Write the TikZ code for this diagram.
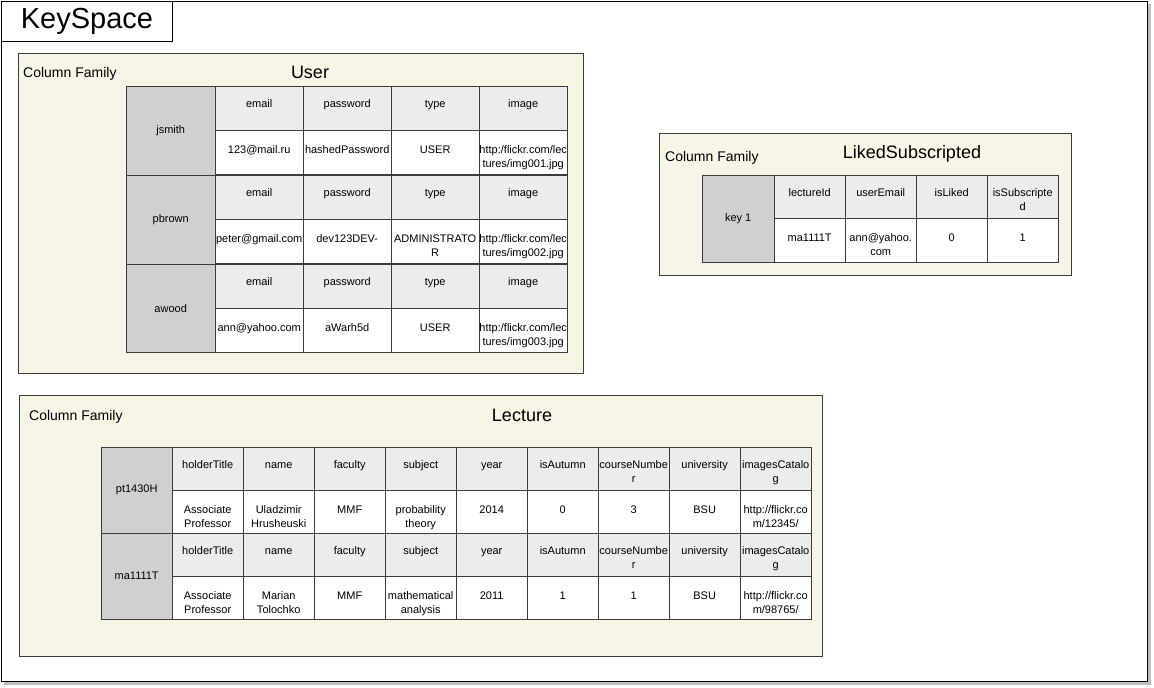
\documentclass[tikz,border=0pt]{standalone}
\usepackage{fontspec}
\setmainfont{Liberation Sans}
\usepackage{tikz}

\definecolor{cream}{RGB}{248,245,230}
\definecolor{keygray}{RGB}{208,208,208}
\definecolor{headgray}{RGB}{236,236,236}
\definecolor{celledge}{RGB}{60,60,60}

\begin{document}
\begin{tikzpicture}[x=1pt,y=-1pt,
  family/.style={draw=celledge,fill=cream},
  cell/.style={draw=celledge,anchor=north west,inner sep=0pt,font=\fontsize{11}{14}\selectfont},
  keycell/.style={cell,fill=keygray},
  headcell/.style={cell,fill=headgray},
  valcell/.style={cell,fill=white},
  celltext/.style={anchor=north,yshift=-13.5pt,align=center,inner sep=0pt,
    font=\fontsize{11}{14}\selectfont,execute at begin node={\vphantom{Ah}}},
  valtext/.style={celltext,yshift=-2pt},
  cflabel/.style={anchor=west,inner sep=0pt,font=\fontsize{14}{16}\selectfont},
  cftitle/.style={inner sep=0pt,font=\fontsize{18}{21}\selectfont}]
\useasboundingbox (0,0) rectangle (1154,688);
\fill[black!25] (4,4) rectangle (1151,685);
\draw[fill=white,line width=0.9pt] (1,1) rectangle (1147,681);
\node[draw,fill=white,line width=0.9pt,anchor=north west,minimum width=171pt,minimum height=40pt,inner sep=0pt,font=\fontsize{29}{32}\selectfont] (keyspace) at (1,1) {KeySpace};

\draw[family] (18,53) rectangle (583,373);
\node[cflabel] (userCF) at (23,74) {Column Family};
\node[cftitle] (userName) at (310,72) {User};
\node[keycell,minimum width=89pt,minimum height=89pt] (jsmith) at (126,86) {jsmith};
\node[keycell,minimum width=89pt,minimum height=89pt] (pbrown) at (126,175) {pbrown};
\node[keycell,minimum width=89pt,minimum height=88pt] (awood) at (126,264) {awood};
\foreach \r/\rowy in {1/86,2/175,3/264}
  \foreach \c/\x/\h in {1/215/email,2/303/password,3/391/type,4/479/image}{
    \node[headcell,minimum width=88pt,minimum height=44pt] (uh\r\c) at (\x,\rowy) {};
    \node[celltext] (uht\r\c) at (uh\r\c.north) {\h};
    \node[valcell,minimum width=88pt,minimum height=44pt] (uv\r\c) at (\x,{\rowy+44}) {};
  }
\node[valtext] (uvt11) at (uv11.north) {123@mail.ru};
\node[valtext] (uvt12) at (uv12.north) {hashedPassword};
\node[valtext] (uvt13) at (uv13.north) {USER};
\node[valtext] (uvt14) at (uv14.north) {http:/flickr.com/lec\\tures/img001.jpg};
\node[valtext] (uvt21) at (uv21.north) {peter@gmail.com};
\node[valtext] (uvt22) at (uv22.north) {dev123DEV-};
\node[valtext] (uvt23) at (uv23.north) {ADMINISTRATO\\R};
\node[valtext] (uvt24) at (uv24.north) {http:/flickr.com/lec\\tures/img002.jpg};
\node[valtext] (uvt31) at (uv31.north) {ann@yahoo.com};
\node[valtext] (uvt32) at (uv32.north) {aWarh5d};
\node[valtext] (uvt33) at (uv33.north) {USER};
\node[valtext] (uvt34) at (uv34.north) {http:/flickr.com/lec\\tures/img003.jpg};

\draw[family] (659,133) rectangle (1071,275);
\node[cflabel] (likedCF) at (665,158) {Column Family};
\node[cftitle] (likedName) at (912,154) {LikedSubscripted};
\node[keycell,minimum width=72pt,minimum height=87pt] (key1) at (702,175) {key 1};
\foreach \c/\x/\h/\v in {1/774/lectureId/ma1111T,2/845/userEmail/{ann@yahoo.\\com},3/916/isLiked/0,4/987/{isSubscripte\\d}/1}{
  \node[headcell,minimum width=71pt,minimum height=43pt] (lh\c) at (\x,175) {};
  \node[celltext] (lht\c) at (lh\c.north) {\h};
  \node[valcell,minimum width=71pt,minimum height=44pt] (lv\c) at (\x,218) {};
  \node[valtext] (lvt\c) at (lv\c.north) {\v};
}

\draw[family] (19,395) rectangle (822,656);
\node[cflabel] (lectureCF) at (29,417) {Column Family};
\node[cftitle] (lectureName) at (522,415) {Lecture};
\node[keycell,minimum width=71pt,minimum height=86pt] (pt1430H) at (101,447) {pt1430H};
\node[keycell,minimum width=71pt,minimum height=86pt] (ma1111T) at (101,533) {ma1111T};
\foreach \r/\rowy in {1/447,2/533}
  \foreach \c/\h in {1/holderTitle,2/name,3/faculty,4/subject,5/year,6/isAutumn,7/{courseNumbe\\r},8/university,9/{imagesCatalo\\g}}{
    \node[headcell,minimum width=71pt,minimum height=43pt] (lech\r\c) at ({101+71*\c},\rowy) {};
    \node[celltext] (lecht\r\c) at (lech\r\c.north) {\h};
    \node[valcell,minimum width=71pt,minimum height=43pt] (lecv\r\c) at ({101+71*\c},{\rowy+43}) {};
  }
\node[valtext] (lecvt11) at (lecv11.north) {Associate\\Professor};
\node[valtext] (lecvt12) at (lecv12.north) {Uladzimir\\Hrusheuski};
\node[valtext] (lecvt13) at (lecv13.north) {MMF};
\node[valtext] (lecvt14) at (lecv14.north) {probability\\theory};
\node[valtext] (lecvt15) at (lecv15.north) {2014};
\node[valtext] (lecvt16) at (lecv16.north) {0};
\node[valtext] (lecvt17) at (lecv17.north) {3};
\node[valtext] (lecvt18) at (lecv18.north) {BSU};
\node[valtext] (lecvt19) at (lecv19.north) {http://flickr.co\\m/12345/};
\node[valtext] (lecvt21) at (lecv21.north) {Associate\\Professor};
\node[valtext] (lecvt22) at (lecv22.north) {Marian\\Tolochko};
\node[valtext] (lecvt23) at (lecv23.north) {MMF};
\node[valtext] (lecvt24) at (lecv24.north) {mathematical\\analysis};
\node[valtext] (lecvt25) at (lecv25.north) {2011};
\node[valtext] (lecvt26) at (lecv26.north) {1};
\node[valtext] (lecvt27) at (lecv27.north) {1};
\node[valtext] (lecvt28) at (lecv28.north) {BSU};
\node[valtext] (lecvt29) at (lecv29.north) {http://flickr.co\\m/98765/};
\end{tikzpicture}
\end{document}
